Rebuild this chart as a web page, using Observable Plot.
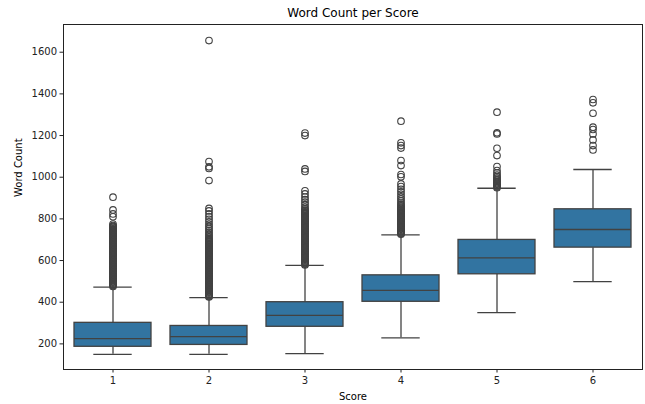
<!DOCTYPE html>
<html>
<head>
<meta charset="utf-8">
<script src="https://cdn.jsdelivr.net/npm/d3@7"></script>
<script src="https://cdn.jsdelivr.net/npm/@observablehq/plot@0.6"></script>
<style>
  html, body { margin: 0; padding: 0; background: #fff; }
  svg { display: block; }
</style>
</head>
<body>
<div id="chart"></div>
<script>
const scores = ["1", "2", "3", "4", "5", "6"];
const whiskerLow  = [150, 150, 153, 229, 350, 499];
const q1          = [186, 195, 282, 402, 534, 662];
const median      = [225, 235, 337, 457, 613, 749];
const q3          = [301, 286, 400, 529, 699, 846];
const whiskerHigh = [472, 422, 577, 723, 947, 1037];

const outliers1 = [904, 843, 824, 810, 775, 768, 764, 760, 756, 752, 748, 744, 740, 736, 732, 728, 724, 720, 716, 712, 708, 704, 700, 696, 692, 688, 684, 680, 676, 672, 668, 664, 660, 656, 652, 648, 644, 640, 636, 632, 628, 624, 620, 616, 612, 608, 604, 600, 596, 592, 588, 584, 580, 576, 572, 568, 564, 560, 556, 552, 548, 544, 540, 536, 532, 528, 524, 520, 516, 512, 508, 504, 500, 496, 492, 488, 484, 480, 476];
const outliers2 = [1656, 1075, 1050, 1042, 984, 850, 838, 824, 810, 798, 786, 774, 764, 754, 745, 736, 728, 720, 712, 706, 700, 696, 692, 688, 684, 680, 676, 672, 668, 664, 660, 656, 652, 648, 644, 640, 636, 632, 628, 624, 620, 616, 612, 608, 604, 600, 596, 592, 588, 584, 580, 576, 572, 568, 564, 560, 556, 552, 548, 544, 540, 536, 532, 528, 524, 520, 516, 512, 508, 504, 500, 496, 492, 488, 484, 480, 476, 472, 468, 464, 460, 456, 452, 448, 444, 440, 436, 432, 428, 425];
const outliers3 = [1212, 1200, 1040, 1028, 935, 920, 905, 892, 880, 868, 856, 848, 842, 838, 834, 830, 826, 822, 818, 814, 810, 806, 802, 798, 794, 790, 786, 782, 778, 774, 770, 766, 762, 758, 754, 750, 746, 742, 738, 734, 730, 726, 722, 718, 714, 710, 706, 702, 698, 694, 690, 686, 682, 678, 674, 670, 666, 662, 658, 654, 650, 646, 642, 638, 634, 630, 626, 622, 618, 614, 610, 606, 602, 598, 594, 590, 586, 582, 579];
const outliers4 = [1269, 1165, 1152, 1140, 1080, 1056, 1013, 1002, 968, 955, 942, 930, 918, 906, 896, 886, 876, 868, 862, 856, 850, 846, 842, 838, 834, 830, 826, 822, 818, 814, 810, 806, 802, 798, 794, 790, 786, 782, 778, 774, 770, 766, 762, 758, 754, 750, 746, 742, 738, 734, 730, 726];
const outliers5 = [1312, 1213, 1208, 1139, 1104, 1051, 1032, 1020, 1010, 1002, 996, 990, 985, 980, 975, 970, 966, 962, 958, 954, 950];
const outliers6 = [1373, 1357, 1307, 1240, 1229, 1208, 1179, 1152, 1131];

const yTicks = [200, 400, 600, 800, 1000, 1200, 1400, 1600];

const stats = scores.map((s, i) => ({
  score: s, lo: whiskerLow[i], q1: q1[i], med: median[i], q3: q3[i], hi: whiskerHigh[i]
}));
const outlierLists = [outliers1, outliers2, outliers3, outliers4, outliers5, outliers6];
const fliers = outlierLists.flatMap((arr, i) => arr.map(v => ({ score: scores[i], value: v })));

const lineColor = "#424242";
const boxColor = "#3274a1";
const font = "DejaVu Sans, sans-serif";

const chart = Plot.plot({
  width: 645,
  height: 404,
  marginTop: 24,
  marginBottom: 35,
  marginLeft: 63,
  marginRight: 3,
  style: { fontFamily: font, fontSize: "10px", color: "#222", background: "#fff" },
  x: {
    type: "band",
    domain: scores,
    paddingInner: 0.2,
    paddingOuter: 0.1,
    label: null
  },
  y: {
    domain: [77, 1733],
    label: null
  },
  marks: [
    Plot.ruleX(stats, { x: "score", y1: "lo", y2: "q1", stroke: lineColor, strokeWidth: 1.3 }),
    Plot.ruleX(stats, { x: "score", y1: "q3", y2: "hi", stroke: lineColor, strokeWidth: 1.3 }),
    Plot.barY(stats, { x: "score", y1: "q1", y2: "q3", fill: boxColor, stroke: lineColor, strokeWidth: 1.3 }),
    Plot.tickY(stats, { x: "score", y: "med", stroke: lineColor, strokeWidth: 1.3 }),
    Plot.tickY(stats, { x: "score", y: "lo", stroke: lineColor, strokeWidth: 1.3, insetLeft: 19.3, insetRight: 19.3 }),
    Plot.tickY(stats, { x: "score", y: "hi", stroke: lineColor, strokeWidth: 1.3, insetLeft: 19.3, insetRight: 19.3 }),
    Plot.dot(fliers, { x: "score", y: "value", r: 3.3, stroke: lineColor, strokeWidth: 1.1, fill: "none" }),
    Plot.frame({ stroke: "#222", strokeWidth: 1 }),
    Plot.axisX({ tickSize: 3.5, tickPadding: 4, label: null, fontSize: 10 }),
    Plot.axisY({ ticks: yTicks, tickFormat: d => String(d), tickSize: 3.5, tickPadding: 3, label: null, fontSize: 10 }),
    Plot.text(["Word Count per Score"], { frameAnchor: "top", lineAnchor: "middle", dy: -11, fontSize: 12, fill: "#000", fontFamily: font }),
    Plot.text(["Score"], { frameAnchor: "bottom", lineAnchor: "middle", dy: 27, fontSize: 10, fill: "#000", fontFamily: font }),
    Plot.text(["Word Count"], { frameAnchor: "left", dx: -45, rotate: -90, fontSize: 10, fill: "#000", fontFamily: font })
  ]
});

document.getElementById("chart").appendChild(chart);
</script>
</body>
</html>
